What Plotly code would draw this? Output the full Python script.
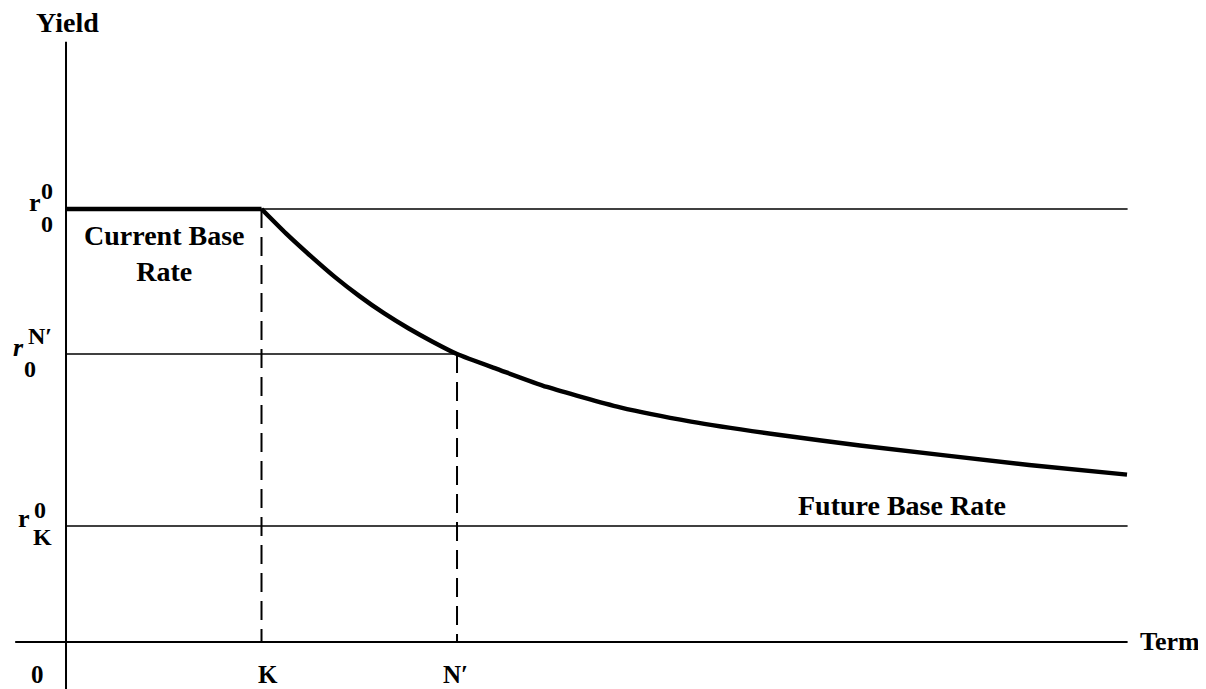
import plotly.graph_objects as go

# ---- data (abstract units) ----
term_flat = [0.0, 1.0]
yield_flat = [10.0, 10.0]
term_curve = [1.0, 1.125, 1.252, 1.376, 1.501, 1.626, 1.751, 1.875, 2.0,
              2.22, 2.46, 2.834, 3.197, 3.652, 4.061, 4.926, 5.427]
yield_curve = [10.0, 9.437, 8.912, 8.427, 7.988, 7.593, 7.245, 6.935, 6.65,
               6.28, 5.89, 5.418, 5.09, 4.78, 4.54, 4.09, 3.866]

r_current = 10.0     # r^0_0
r_nprime = 6.65      # r^N'_0
r_future = 2.68      # r^0_K
K = 1.0
N_prime = 2.0
term_max = 5.43
yield_axis_top = 13.86
term_axis_left = -0.26

x_range = [-0.2967, 5.831]
y_range = [-1.085, 14.642]

FONT = "Liberation Serif"
BLACK = "#000000"

fig = go.Figure()

def line(xs, ys, width=1.6, dash=None):
    fig.add_trace(go.Scatter(x=xs, y=ys, mode="lines",
                             line=dict(color=BLACK, width=width, dash=dash),
                             hoverinfo="skip", showlegend=False))

# axes
line([0, 0], [y_range[0], yield_axis_top], width=2)
line([term_axis_left, term_max], [0, 0], width=2)
# horizontal rate levels
line([0, term_max], [r_current, r_current], width=1.6)
line([0, N_prime], [r_nprime, r_nprime], width=1.6)
line([0, term_max], [r_future, r_future], width=1.6)
# dashed verticals
line([K, K], [r_current, 0], width=2, dash="19px,9px")
line([N_prime, N_prime], [r_nprime, 0], width=2, dash="19px,9px")
# yield curve
line(term_flat, yield_flat, width=4.5)
fig.add_trace(go.Scatter(x=term_curve, y=yield_curve, mode="lines",
                         line=dict(color=BLACK, width=4.5, shape="spline", smoothing=0.6),
                         hoverinfo="skip", showlegend=False))

def label(text, x, y, xs=0, ys=0, size=26, xanchor="center", italic=False, bold=True):
    t = text
    if bold:
        t = "<b>" + t + "</b>"
    if italic:
        t = "<i>" + t + "</i>"
    fig.add_annotation(x=x, y=y, xref="x", yref="y", text=t, showarrow=False,
                       xshift=xs, yshift=ys, xanchor=xanchor, yanchor="middle",
                       font=dict(family=FONT, size=size, color=BLACK))

# axis titles
label("Yield", 0, yield_axis_top, xs=1, ys=19, size=28)
label("Term", term_max, 0, xs=10, ys=1, xanchor="left")

# y-level labels
label("r", 0, r_current, xs=-31, ys=7)
label("0", 0, r_current, xs=-19, ys=18, size=24)
label("0", 0, r_current, xs=-19, ys=-15, size=24)

label("r", 0, r_nprime, xs=-48, ys=7, italic=True)
label("N′", 0, r_nprime, xs=-26, ys=18, size=24)
label("0", 0, r_nprime, xs=-36, ys=-15, size=24)

label("r", 0, r_future, xs=-42, ys=7)
label("0", 0, r_future, xs=-26, ys=16, size=24)
label("K", 0, r_future, xs=-24, ys=-11, size=24)

# x tick labels
label("0", 0, 0, xs=-29, ys=-32, size=25)
label("K", K, 0, xs=6, ys=-32, size=25)
label("N′", N_prime, 0, xs=-2, ys=-32, size=25)

# region labels
label("Current Base<br>Rate", 0.501, r_current, ys=-44, size=28)
label("Future Base Rate", 4.276, r_future, ys=20, size=28)

fig.update_layout(
    width=1198, height=681, autosize=False,
    margin=dict(l=0, r=0, t=0, b=0),
    paper_bgcolor="white", plot_bgcolor="white",
    showlegend=False,
    xaxis=dict(range=x_range, visible=False, fixedrange=True),
    yaxis=dict(range=y_range, visible=False, fixedrange=True),
)

fig.write_html("out.html")
